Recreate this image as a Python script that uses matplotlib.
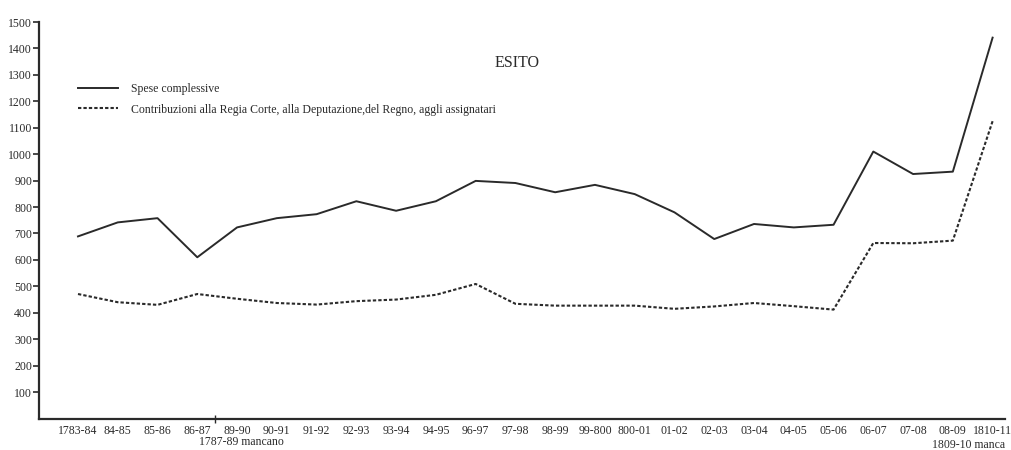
import matplotlib
matplotlib.use("Agg")
import matplotlib.pyplot as plt
import matplotlib.transforms as mtransforms

plt.rcParams['font.family'] = ['Liberation Serif', 'DejaVu Serif']

# Esito: spese e contribuzioni per annata
annate = ['1783-84', '84-85', '85-86', '86-87', '89-90', '90-91', '91-92', '92-93',
          '93-94', '94-95', '96-97', '97-98', '98-99', '99-800', '800-01', '01-02',
          '02-03', '03-04', '04-05', '05-06', '06-07', '07-08', '08-09', '1810-11']
spese = [689, 742, 758, 610, 723, 758, 773, 822, 786, 822, 899, 891,
         856, 884, 849, 780, 679, 736, 723, 733, 1010, 925, 934, 1441]
contribuzioni = [471, 440, 430, 471, 453, 437, 431, 444, 450, 468, 509, 434,
                 427, 427, 427, 415, 424, 437, 425, 412, 664, 663, 673, 1125]
yticks = list(range(100, 1600, 100))

ink = '#2a2a2a'

fig = plt.figure(figsize=(10.11, 4.5), dpi=100)
ax = fig.add_axes([0.0386, 0.07, 0.955, 0.881])

x = list(range(len(annate)))
ax.plot(x, spese, color=ink, lw=1.4, label='Spese complessive')
ax.plot(x, contribuzioni, color=ink, lw=1.5, linestyle=(0, (1.6, 1.0)),
        label='Contribuzioni alla Regia Corte, alla Deputazione,del Regno, aggli assignatari')

ax.set_xlim(-0.98, 23.3)
ax.set_ylim(0, 1500)

for s in ['top', 'right']:
    ax.spines[s].set_visible(False)
for s in ['left', 'bottom']:
    ax.spines[s].set_linewidth(1.6)
    ax.spines[s].set_color(ink)

ax.set_yticks(yticks)
ax.set_yticklabels([str(v) for v in yticks])
ax.tick_params(axis='y', length=4, width=1.2, pad=1, labelsize=8.5, colors=ink)
ax.set_xticks(x)
ax.set_xticklabels(annate)
ax.tick_params(axis='x', length=0, pad=4.5, labelsize=8.5, colors=ink)
ax.set_xticks([3.45], minor=True)
ax.tick_params(axis='x', which='minor', length=6, width=1, direction='inout', color=ink)

trans = mtransforms.blended_transform_factory(ax.transData, ax.transAxes)
ax.text(4.1, -0.06, '1787-89 mancano', transform=trans, ha='center', va='center',
        fontsize=8.5, color=ink, clip_on=False)
ax.text(22.4, -0.068, '1809-10 manca', transform=trans, ha='center', va='center',
        fontsize=8.5, color=ink, clip_on=False)

fig.text(0.511, 0.861, 'ESITO', ha='center', va='center', fontsize=11.5, color=ink)

ax.legend(loc='upper left', bbox_to_anchor=(78 / 1011, 1 - 83 / 450),
          bbox_transform=fig.transFigure, frameon=False, fontsize=8.5,
          handlelength=3.4, handletextpad=1.1, labelspacing=0.72, borderpad=0,
          borderaxespad=0, labelcolor=ink)

fig.savefig('out.png', dpi=100)
